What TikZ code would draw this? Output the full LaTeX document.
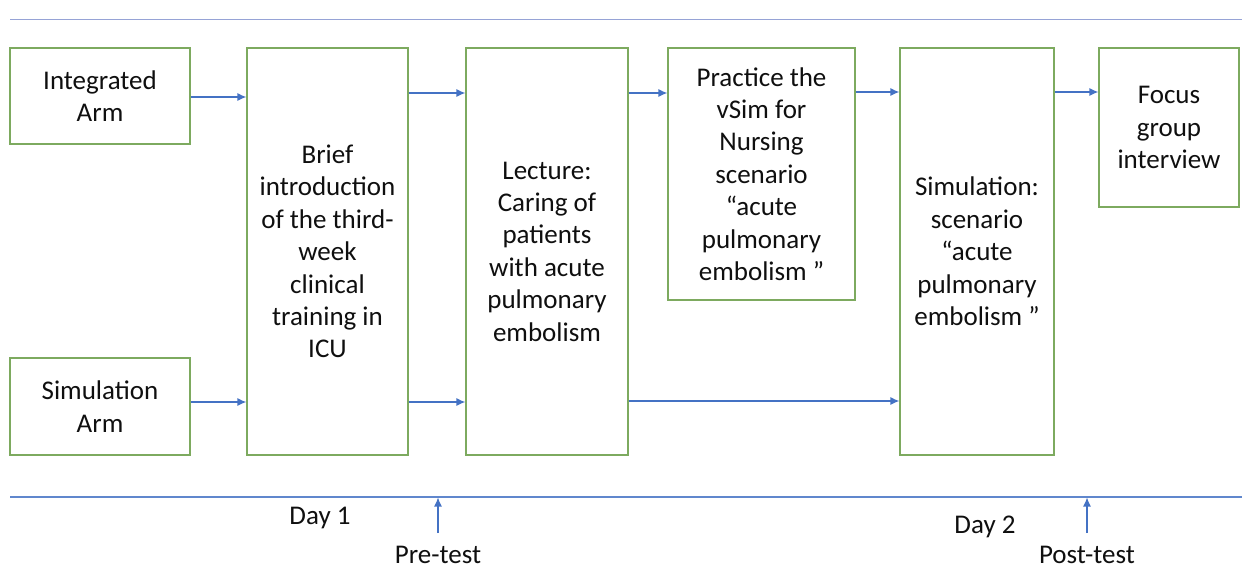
\documentclass[tikz,border=0pt]{standalone}
\usepackage{fontspec}
\setmainfont{Carlito}
\usetikzlibrary{arrows.meta}
\definecolor{boxgreen}{RGB}{125,170,95}
\definecolor{arrblue}{RGB}{68,114,196}
\definecolor{topline}{RGB}{150,163,214}
\definecolor{txt}{RGB}{15,15,15}
\tikzset{
  box/.style={draw=boxgreen, line width=0.6pt, rectangle, inner sep=0pt, align=center,
    text=txt, font=\fontsize{13.5pt}{16.2pt}\selectfont},
  arr/.style={draw=arrblue, line width=0.6pt, -{Latex[length=4.5pt,width=4pt]}},
  lbl/.style={inner sep=0pt, text=txt, font=\fontsize{13.5pt}{16.2pt}\selectfont},
}
\begin{document}
\begin{tikzpicture}[x=0.5pt,y=-0.5pt]
\useasboundingbox (0,0) rectangle (1242,568);
% timelines
\coordinate (tl1) at (10,19.5);
\coordinate (tl2) at (1242,19.5);
\coordinate (bl1) at (10,497);
\coordinate (bl2) at (1242,497);
\draw[topline, line width=0.9pt] (tl1) -- (tl2);
\draw[arrblue!85, line width=0.7pt] (bl1) -- (bl2);
% boxes
\node[box, minimum width=90pt, minimum height=48pt] (ia) at (100,96) {Integrated\\Arm};
\node[box, minimum width=90pt, minimum height=48.5pt] (sa) at (100,406.5) {Simulation\\Arm};
\node[box, minimum width=80.5pt, minimum height=203.5pt] (brief) at (327.5,251.5)
  {Brief\\introduction\\of the third-\\week\\clinical\\training in\\ICU};
\node[box, minimum width=81pt, minimum height=203.5pt] (lect) at (547,251.5)
  {Lecture:\\Caring of\\patients\\with acute\\pulmonary\\embolism};
\node[box, minimum width=93.5pt, minimum height=126pt] (prac) at (761.5,174)
  {Practice the\\vSim for\\Nursing\\scenario\\“acute\\pulmonary\\embolism ”};
\node[box, minimum width=77pt, minimum height=203.5pt] (sim) at (977,251.5)
  {Simulation:\\scenario\\“acute\\pulmonary\\embolism ”};
\node[box, minimum width=70pt, minimum height=79.5pt] (focus) at (1169,127.5)
  {Focus\\group\\interview};
% upper connectors
\draw[arr] (ia.east |- 0,97) -- (brief.west |- 0,97);
\draw[arr] (brief.east |- 0,93) -- (lect.west |- 0,93);
\draw[arr] (lect.east |- 0,93) -- (prac.west |- 0,93);
\draw[arr] (prac.east |- 0,92) -- (sim.west |- 0,92);
\draw[arr] (sim.east |- 0,92) -- (focus.west |- 0,92);
% lower connectors
\draw[arr] (sa.east |- 0,402) -- (brief.west |- 0,402);
\draw[arr] (brief.east |- 0,402) -- (lect.west |- 0,402);
\draw[arr] (lect.east |- 0,401) -- (sim.west |- 0,401);
% labels
\node[lbl] (day1) at (320,518) {Day 1};
\node[lbl] (day2) at (985,527) {Day 2};
\node[lbl] (pre) at (438,555) {Pre-test};
\node[lbl] (post) at (1087,555) {Post-test};
\coordinate (preA) at (438,533);
\coordinate (preB) at (438,497.5);
\coordinate (postA) at (1087,533);
\coordinate (postB) at (1087,497.5);
\draw[arr] (preA) -- (preB);
\draw[arr] (postA) -- (postB);
\end{tikzpicture}
\end{document}
